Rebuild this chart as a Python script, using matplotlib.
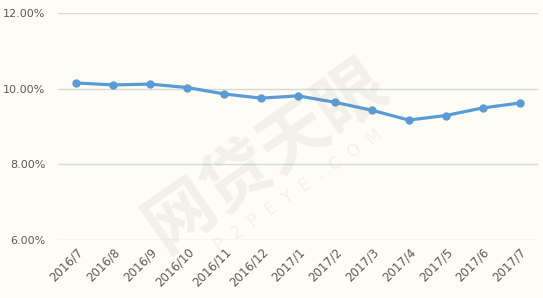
import matplotlib
matplotlib.use('Agg')
import matplotlib.pyplot as plt

months = ['2016/7', '2016/8', '2016/9', '2016/10', '2016/11', '2016/12', '2017/1',
          '2017/2', '2017/3', '2017/4', '2017/5', '2017/6', '2017/7']
rates = [10.15, 10.10, 10.12, 10.03, 9.86, 9.75, 9.81, 9.64, 9.43, 9.17, 9.29, 9.49, 9.62]
y_ticks = [6, 8, 10, 12]

bg = '#fdfdf6'
plt.rcParams['font.family'] = ['DejaVu Sans', 'Noto Sans CJK SC']

fig = plt.figure(figsize=(5.43, 2.98), dpi=100, facecolor=bg)
ax = fig.add_axes([58 / 543, 1 - 240 / 298, 480 / 543, 227 / 298], facecolor=bg)

# watermark
fig.text(0.49, 0.48, '网贷天眼', fontsize=50, color='#8c8c80', alpha=0.1, rotation=35,
         ha='center', va='center', family='Noto Sans CJK SC', fontweight='bold', zorder=5)
fig.text(0.55, 0.36, 'P  2  P  E  Y  E  .  C  O  M', fontsize=12, color='#8c8c80', alpha=0.1,
         rotation=35, ha='center', va='center', zorder=5)

x = range(len(months))
ax.plot(x, rates, color='#5b9bd5', linewidth=2.3, marker='o', markersize=5, zorder=3)

ax.set_xlim(-0.5, len(months) - 0.5)
ax.set_ylim(6, 12)
ax.set_yticks(y_ticks)
ax.set_yticklabels(['%.2f%%' % v for v in y_ticks])
ax.set_xticks(list(x))
ax.set_xticklabels(months, rotation=45, ha='right', rotation_mode='anchor')
ax.grid(axis='y', color='#d9d9d9', linewidth=1)
ax.set_axisbelow(True)
for s in ax.spines.values():
    s.set_visible(False)
ax.tick_params(length=0, labelsize=8, colors='#595959')
ax.tick_params(axis='x', labelsize=8.5, pad=4)
ax.tick_params(axis='y', pad=9)

fig.savefig('out.png', dpi=100, facecolor=bg)
